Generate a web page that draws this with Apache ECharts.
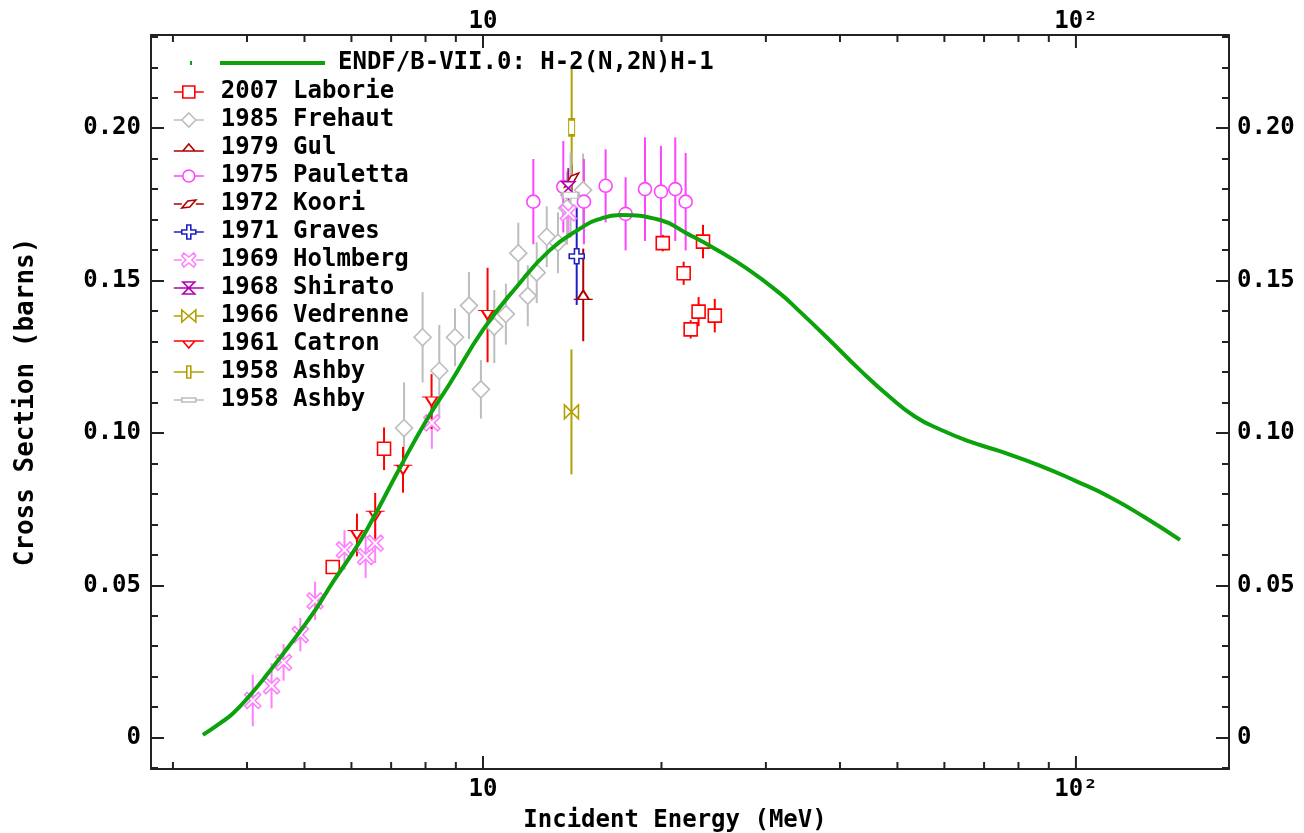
<!DOCTYPE html>
<html>
<head>
<meta charset="utf-8">
<script src="https://cdn.jsdelivr.net/npm/echarts@6/dist/echarts.min.js"></script>
<style>
html,body{margin:0;padding:0;background:#fff;}
#chart{width:1304px;height:833px;}
</style>
</head>
<body>
<div id="chart"></div>
<script>
// ---------------- data ----------------
const endfName = 'ENDF/B-VII.0: H-2(N,2N)H-1';
const endfE  = [3.37,3.60,3.79,4.05,4.32,4.61,4.91,5.24,5.59,5.97,6.37,7.24,8.04,8.80,10.0,11.4,12.97,14.76,15.55,17.02,19.89,22.06,24.45,27.84,31.68,34.2,38.4,43.2,48.6,53.5,58.9,66.1,74.4,86.9,100,114,130.4,149.8];
const endfXS = [0.0009,0.0047,0.0080,0.0140,0.0206,0.0277,0.0348,0.0425,0.0512,0.0594,0.0682,0.0885,0.1043,0.1163,0.1338,0.1480,0.1600,0.1677,0.1699,0.1715,0.1699,0.1655,0.1608,0.1540,0.1458,0.1399,0.1305,0.1207,0.1117,0.1054,0.1012,0.0972,0.0940,0.0893,0.0842,0.0790,0.0724,0.0649];

// [energy MeV, cross section b, uncertainty b]
const laborie  = [[5.58,0.0560,0.002],[6.81,0.0948,0.007],[20.1,0.1623,0.0027],[21.8,0.1524,0.0038],[22.4,0.1340,0.003],[23.1,0.1398,0.0048],[23.5,0.1628,0.0055],[24.6,0.1385,0.0055]];
const frehaut  = [[7.36,0.1016,0.015],[7.91,0.1314,0.0148],[8.44,0.1204,0.015],[8.97,0.1314,0.0095],[9.47,0.1418,0.011],[9.92,0.1143,0.0096],[10.45,0.1349,0.012],[10.93,0.1390,0.010],[11.47,0.1590,0.010],[11.9,0.1450,0.010],[12.32,0.1526,0.010],[12.81,0.1644,0.010],[13.38,0.1624,0.010],[13.86,0.1738,0.012],[14.75,0.1797,0.012]];
const gul      = [[14.76,0.1453,0.0152]];
const pauletta = [[12.16,0.1759,0.014],[13.66,0.1808,0.015],[14.8,0.1759,0.014],[16.1,0.1811,0.012],[17.4,0.1719,0.012],[18.76,0.1800,0.017],[19.96,0.1792,0.015],[21.1,0.1800,0.017],[21.97,0.1759,0.016]];
const koori    = [[14.11,0.1830,0.005]];
const graves   = [[14.39,0.1580,0.016]];
const holmberg = [[4.09,0.0122,0.0085],[4.40,0.0170,0.0074],[4.61,0.0247,0.006],[4.92,0.0338,0.0055],[5.21,0.0449,0.0063],[5.84,0.0616,0.0065],[6.34,0.0594,0.007],[6.58,0.0638,0.0065],[8.2,0.1033,0.0085],[13.93,0.1722,0.008]];
const shirato  = [[13.93,0.1803,0.0066]];
const vedrenne = [[14.1,0.1069,0.0205]];
const catron   = [[6.13,0.0665,0.007],[6.58,0.0728,0.0075],[7.33,0.0879,0.0075],[8.19,0.1103,0.009],[10.18,0.1387,0.0155]];
const ashbyA   = [[14.11,0.2003,0.0195]];
const ashbyB   = [[14.05,0.1780,0.014]];

const xMajorTicks = [10,100];
const xMinorTicks = [3,4,5,6,7,8,9,20,30,40,50,60,70,80,90];
const xMin = 2.755, xMax = 181.2, yMin = -0.0103, yMax = 0.2306;

// ---------------- styling ----------------
const FONT = 'DejaVu Sans Mono';
const AX = '#222';
const L = 'M0,0 M42,14 ';
const sets = [
  {name:'2007 Laborie', data:laborie, color:'#ff0000', symbol:'rect', size:13,
   icon:L+'M0,7 L9,7 M21,7 L30,7 M9,1 L21,1 L21,13 L9,13 Z'},
  {name:'1985 Frehaut', data:frehaut, color:'#bdbdbd', symbol:'diamond', size:17,
   icon:L+'M0,7 L8,7 M22,7 L30,7 M15,0 L22,7 L15,14 L8,7 Z'},
  {name:'1979 Gul', data:gul, color:'#b00000', symbol:'path://M0,10 L20,10 M4,10 L10,2 L16,10 Z', size:[19,9],
   icon:L+'M0,10 L30,10 M9,10 L15,3 L21,10 Z'},
  {name:'1975 Pauletta', data:pauletta, color:'#ff44ff', symbol:'circle', size:13,
   icon:L+'M0,7 L9,7 M21,7 L30,7 M21,7 A6,6 0 1 1 9,7 A6,6 0 1 1 21,7 Z'},
  {name:'1972 Koori', data:koori, color:'#b00000', symbol:'path://M0,14 L9,3 L20,0 L11,11 Z', size:14,
   icon:L+'M0,7 L8,7 M22,7 L30,7 M8,11 L14,4 L22,3 L16,10 Z'},
  {name:'1971 Graves', data:graves, color:'#2020c0', symbol:'path://M7,0 L13,0 L13,7 L20,7 L20,13 L13,13 L13,20 L7,20 L7,13 L0,13 L0,7 L7,7 Z', size:15,
   icon:L+'M0,7 L8,7 M22,7 L30,7 M13,0 L17,0 L17,5 L22,5 L22,9 L17,9 L17,14 L13,14 L13,9 L8,9 L8,5 L13,5 Z'},
  {name:'1969 Holmberg', data:holmberg, color:'#ff80ff', symbol:'path://M3,0 L10,7 L17,0 L20,3 L13,10 L20,17 L17,20 L10,13 L3,20 L0,17 L7,10 L0,3 Z', size:16,
   icon:L+'M0,7 L8,7 M22,7 L30,7 M10,0 L15,4 L20,0 L22,3 L18,7 L22,11 L20,14 L15,10 L10,14 L8,11 L12,7 L8,3 Z'},
  {name:'1968 Shirato', data:shirato, color:'#b000b0', symbol:'path://M0,0 L20,0 L0,20 L20,20 Z', size:13,
   icon:L+'M0,7 L30,7 M9,1 L21,1 L9,13 L21,13 Z'},
  {name:'1966 Vedrenne', data:vedrenne, color:'#b0a000', symbol:'path://M0,0 L20,20 L20,0 L0,20 Z', size:14,
   icon:L+'M0,7 L8,7 M22,7 L30,7 M8,1 L22,13 L22,1 L8,13 Z'},
  {name:'1961 Catron', data:catron, color:'#ff0000', symbol:'path://M0,2 L20,2 M4,2 L10,10 L16,2 Z', size:[19,9],
   icon:L+'M0,4 L30,4 M9,4 L15,11 L21,4 Z'},
  {name:'1958 Ashby', data:ashbyA, color:'#b0a000', symbol:'rect', size:[6,16],
   icon:L+'M0,7 L13,7 M17,7 L30,7 M13,1 L17,1 L17,13 L13,13 Z'},
  {name:'1958 Ashby ', data:ashbyB, color:'#bdbdbd', symbol:'rect', size:[16,6],
   icon:L+'M0,7 L8,7 M22,7 L30,7 M8,5 L22,5 L22,9 L8,9 Z'}
];

const series = [];
sets.forEach(function(s){
  series.push({
    type:'custom', name:s.name+' err', data:s.data, z:2, silent:true,
    encode:{x:0,y:1},
    renderItem:function(params, api){
      const x = api.value(0), y = api.value(1), e = api.value(2);
      const p1 = api.coord([x, y - e]), p2 = api.coord([x, y + e]);
      return {type:'line', shape:{x1:p1[0],y1:p1[1],x2:p2[0],y2:p2[1]},
              style:{stroke:s.color, lineWidth:2}};
    }
  });
  series.push({
    type:'scatter', name:s.name, data:s.data.map(function(d){return [d[0],d[1]];}), z:3,
    symbol:s.symbol, symbolSize:s.size, silent:true,
    itemStyle:{color:'#ffffff', borderColor:s.color, borderWidth:1.6, opacity:1}
  });
});
series.push({
  type:'line', name:endfName, z:4, silent:true, symbol:'none', smooth:0.5,
  data:endfE.map(function(e,i){return [e, endfXS[i]];}),
  lineStyle:{color:'#0ca20c', width:4}
});
// axis ticks of the log energy axis (bottom and top, pointing inward)
series.push({
  type:'custom', name:'xticks', z:6, silent:true,
  data:xMajorTicks.map(function(v){return [v,1];}).concat(xMinorTicks.map(function(v){return [v,0];})),
  encode:{x:0},
  renderItem:function(params, api){
    const v = api.value(0), major = api.value(1) === 1;
    const b = api.coord([v, yMin]), t = api.coord([v, yMax]);
    const len = major ? 13 : 7;
    return {type:'group', children:[
      {type:'line', shape:{x1:b[0],y1:b[1],x2:b[0],y2:b[1]-len}, style:{stroke:AX, lineWidth:2}},
      {type:'line', shape:{x1:t[0],y1:t[1],x2:t[0],y2:t[1]+len}, style:{stroke:AX, lineWidth:2}}
    ]};
  }
});

const txt = {fontFamily:FONT, fontWeight:'bold', fontSize:24, color:'#000'};
function xLabel(v){
  if (Math.abs(v-10) < 1e-6) return '10';
  if (Math.abs(v-100) < 1e-4) return '10\u00b2';
  return '';
}
function yLabel(v){
  if (Math.abs(v) < 1e-9) return '0';
  return v.toFixed(2);
}
const xCommon = {
  type:'log', logBase:10, min:xMin, max:xMax,
  axisLine:{show:true, onZero:false, lineStyle:{color:AX, width:2}},
  axisTick:{show:false}, minorTick:{show:false},
  splitLine:{show:false}, minorSplitLine:{show:false}
};
const yCommon = {
  type:'value', min:yMin, max:yMax,
  axisLine:{show:true, onZero:false, lineStyle:{color:AX, width:2}},
  axisTick:{show:true, inside:true, length:13, lineStyle:{color:AX, width:2}},
  minorTick:{show:true, splitNumber:5, length:7, lineStyle:{color:AX, width:2}},
  splitLine:{show:false}, minorSplitLine:{show:false}
};

const legendItems = sets.map(function(s){
  return {name:s.name, icon:'path://'+s.icon,
          itemStyle:{color:'#ffffff', borderColor:s.color, borderWidth:1.6}};
});

const option = {
  animation:false,
  backgroundColor:'#ffffff',
  grid:{left:151, right:75, top:35, bottom:64, containLabel:false, outerBoundsMode:'none'},
  legend:[
    {left:185, top:51, orient:'vertical', padding:0, itemWidth:146, itemHeight:14, itemGap:4,
     selectedMode:false, textStyle:Object.assign({}, txt, {lineHeight:22}),
     data:[{name:endfName, icon:'path://M0,0 M146,14 M3,7 L5,7 M33,7 L138,7',
            itemStyle:{color:'#0ca20c', borderColor:'#0ca20c', borderWidth:4}}]},
    {left:173, top:80, orient:'vertical', padding:0, itemWidth:42, itemHeight:14, itemGap:4,
     selectedMode:false, textStyle:Object.assign({}, txt, {lineHeight:22}),
     data:legendItems}
  ],
  xAxis:[
    Object.assign({}, xCommon, {position:'bottom',
      name:'Incident Energy (MeV)', nameLocation:'middle', nameGap:40,
      nameTextStyle:Object.assign({padding:[0,30,0,0]}, txt),
      axisLabel:Object.assign({margin:9, showMinLabel:false, showMaxLabel:false, formatter:xLabel}, txt)}),
    Object.assign({}, xCommon, {position:'top',
      axisLabel:Object.assign({margin:1, showMinLabel:false, showMaxLabel:false, formatter:xLabel}, txt)})
  ],
  yAxis:[
    Object.assign({}, yCommon, {position:'left',
      name:'Cross Section (barns)', nameLocation:'middle', nameGap:112,
      nameTextStyle:Object.assign({}, txt, {fontSize:26}),
      axisLabel:Object.assign({margin:10, showMinLabel:false, showMaxLabel:false, formatter:yLabel}, txt)}),
    Object.assign({}, yCommon, {position:'right',
      axisLabel:Object.assign({margin:8, showMinLabel:false, showMaxLabel:false, formatter:yLabel}, txt)})
  ],
  series:series
};

const chart = echarts.init(document.getElementById('chart'), null, {renderer:'canvas'});
chart.setOption(option);
</script>
</body>
</html>
